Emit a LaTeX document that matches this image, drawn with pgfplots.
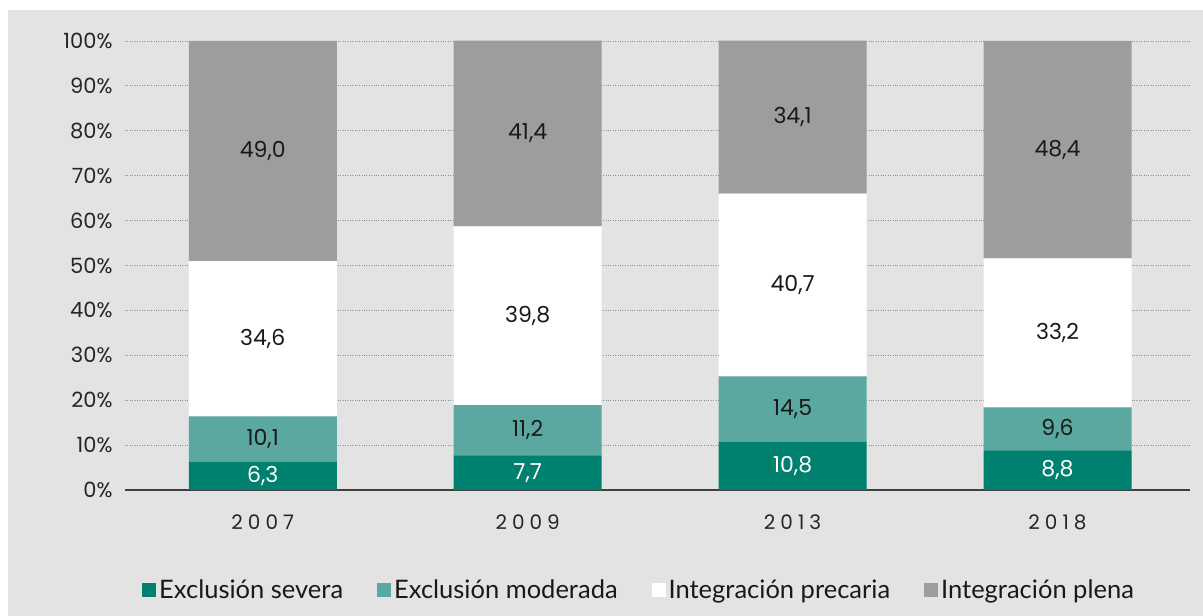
\documentclass[border=0pt]{standalone}
\usepackage{pgfplots}
\pgfplotsset{compat=1.18}
\usepackage{fontspec}
\setmainfont{Poppins}
\newfontfamily\yearfont[LetterSpace=25]{Poppins}
\newfontfamily\legfont{Lato}
\definecolor{bgc}{HTML}{E3E3E3}
\definecolor{sev}{HTML}{00806F}
\definecolor{mod}{HTML}{5BA8A0}
\definecolor{ple}{HTML}{9D9D9C}
\begin{document}
\begin{tikzpicture}
\useasboundingbox (0,0) rectangle (1203bp,616bp);
\fill[bgc] (8bp,0) rectangle (1203bp,606bp);
\begin{axis}[
  at={(125bp,126bp)}, anchor=south west,
  scale only axis, width=1065bp, height=449.45bp,
  ybar stacked, bar width=148bp,
  xmin=-0.52, xmax=3.5, ymin=0, ymax=100.1,
  xtick={0,1,2,3}, xticklabels={2007,2009,2013,2018},
  xticklabel style={font=\yearfont\fontsize{20bp}{23bp}\selectfont, text=black!85, yshift=-21bp},
  ytick={0,10,...,100},
  yticklabel={\pgfmathprintnumber{\tick}\%},
  /pgf/number format/assume math mode=true,
  yticklabel style={font=\fontsize{21bp}{24bp}\selectfont, text=black!85, xshift=-9bp},
  major tick length=0pt,
  axis x line*=bottom, axis y line*=left,
  y axis line style={draw=none},
  x axis line style={draw=black!75, line width=1.3bp, -},
  ymajorgrids, major grid style={dotted, draw=black!45, line width=0.8bp},
  visualization depends on=rawy \as \rawy,
  nodes near coords={\pgfmathprintnumber[use comma, fixed, fixed zerofill, precision=1, assume math mode=true]{\rawy}},
  every node near coord/.append style={font=\fontsize{22bp}{26bp}\selectfont, text=black!90, anchor=center},
  legend columns=4,
  legend style={at={(rel axis cs:0.016,-0.223)}, anchor=west, draw=none, fill=none, inner sep=0pt,
    font=\legfont\fontsize{25.5bp}{29bp}\selectfont, text=black!90,
    /tikz/every even column/.style={column sep=31bp},
    nodes={inner sep=3bp}},
  legend image code/.code={\fill[#1] (0bp,-7bp) rectangle (14bp,7bp);},
]
\addplot[fill=sev, draw=none, every node near coord/.append style={text=white}] coordinates {(0,6.3) (1,7.7) (2,10.8) (3,8.8)};
\addplot[fill=mod, draw=none] coordinates {(0,10.1) (1,11.2) (2,14.5) (3,9.6)};
\addplot[fill=white, draw=none] coordinates {(0,34.6) (1,39.8) (2,40.7) (3,33.2)};
\addplot[fill=ple, draw=none] coordinates {(0,49.0) (1,41.4) (2,34.1) (3,48.4)};
\legend{Exclusión severa, Exclusión moderada, Integración precaria, Integración plena}
\end{axis}
\end{tikzpicture}
\end{document}
